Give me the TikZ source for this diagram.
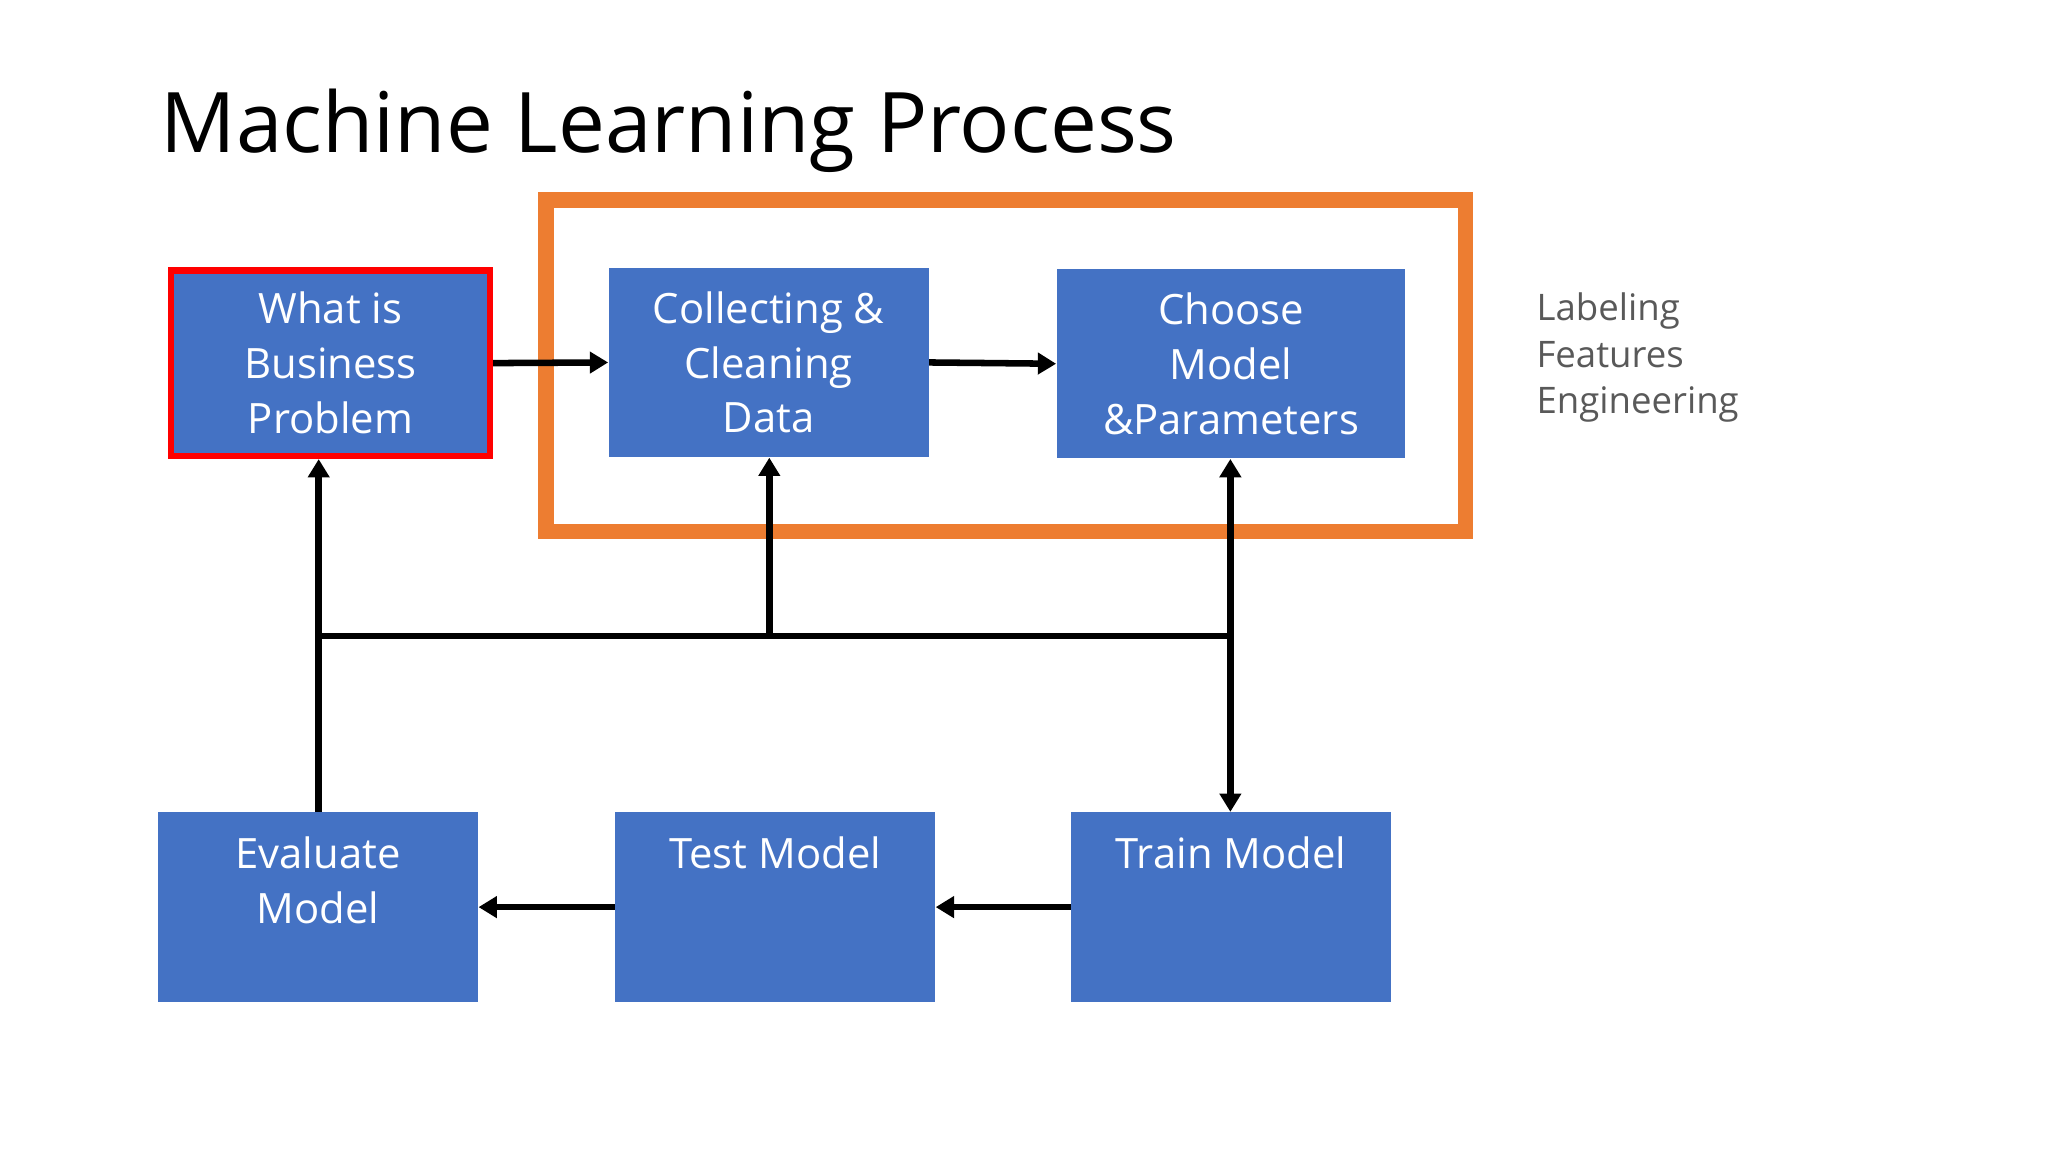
\documentclass[tikz,border=0pt]{standalone}
\usepackage{fontspec}
\setmainfont{Open Sans}
\usetikzlibrary{arrows.meta}
\definecolor{bblue}{HTML}{4472C4}
\definecolor{orng}{HTML}{ED7D31}
\definecolor{gtxt}{HTML}{595959}
\begin{document}
\begin{tikzpicture}[x=0.5pt,y=-0.5pt,
  box/.style={fill=bblue,draw=none,inner sep=0pt,text=white,align=center,font=\fontsize{16}{21}\selectfont},
  conn/.style={line width=2.5pt,-{Triangle[length=7pt,width=8pt]}},
  line/.style={line width=2.5pt}]
\useasboundingbox (0,0) rectangle (1568,882);
\node[anchor=west,font=\fontsize{32}{38}\selectfont] (title) at (116,100) {Machine Learning Process};
\node[draw=orng,line width=6pt,minimum width=352pt,minimum height=127pt,inner sep=0pt] (frame) at (770,280) {};
\node[box,draw=red,line width=2.5pt,minimum width=122pt,minimum height=71pt] (bp) at (253,278) {What is\\Business\\Problem};
\node[box,minimum width=122.5pt,minimum height=72.5pt] (cc) at (588.5,277.5) {Collecting \&\\Cleaning\\Data};
\node[box,minimum width=133.5pt,minimum height=72.5pt] (cm) at (942.5,278.5) {Choose\\Model\\\&Parameters};
\node[box,minimum width=122.5pt,minimum height=72.5pt,label={[anchor=north,yshift=-6pt,text=white,align=center,font=\fontsize{16}{21}\selectfont]north:Evaluate\\Model}] (ev) at (243.5,694.5) {};
\node[box,minimum width=122.5pt,minimum height=72.5pt,label={[anchor=north,yshift=-6pt,text=white,font=\fontsize{16}{21}\selectfont]north:Test Model}] (tm) at (593.5,694.5) {};
\node[box,minimum width=122.5pt,minimum height=72.5pt,label={[anchor=north,yshift=-6pt,text=white,font=\fontsize{16}{21}\selectfont]north:Train Model}] (tr) at (942.5,694.5) {};
\node[anchor=north west,align=left,text=gtxt,inner sep=0pt,font=\fontsize{14}{17.8}\selectfont] (side) at (1176,224) {Labeling\\Features\\Engineering};
\coordinate (jl) at (244,487);
\coordinate (jm) at (589,487);
\coordinate (jr) at (942,487);
\draw[conn] (bp.east) -- (cc.west);
\draw[conn] (cc.east) -- (cm.west);
\draw[conn] (tr.west) -- (tm.east);
\draw[conn] (tm.west) -- (ev.east);
\draw[conn] (ev.north -| jl) -- (bp.south -| jl);
\draw[conn] (jm) -- (cc.south -| jm);
\draw[line] (jl) -- (jr);
\draw[line width=2.5pt,{Triangle[length=7pt,width=8pt]}-{Triangle[length=7pt,width=8pt]}] (cm.south -| jr) -- (tr.north -| jr);
\end{tikzpicture}
\end{document}
